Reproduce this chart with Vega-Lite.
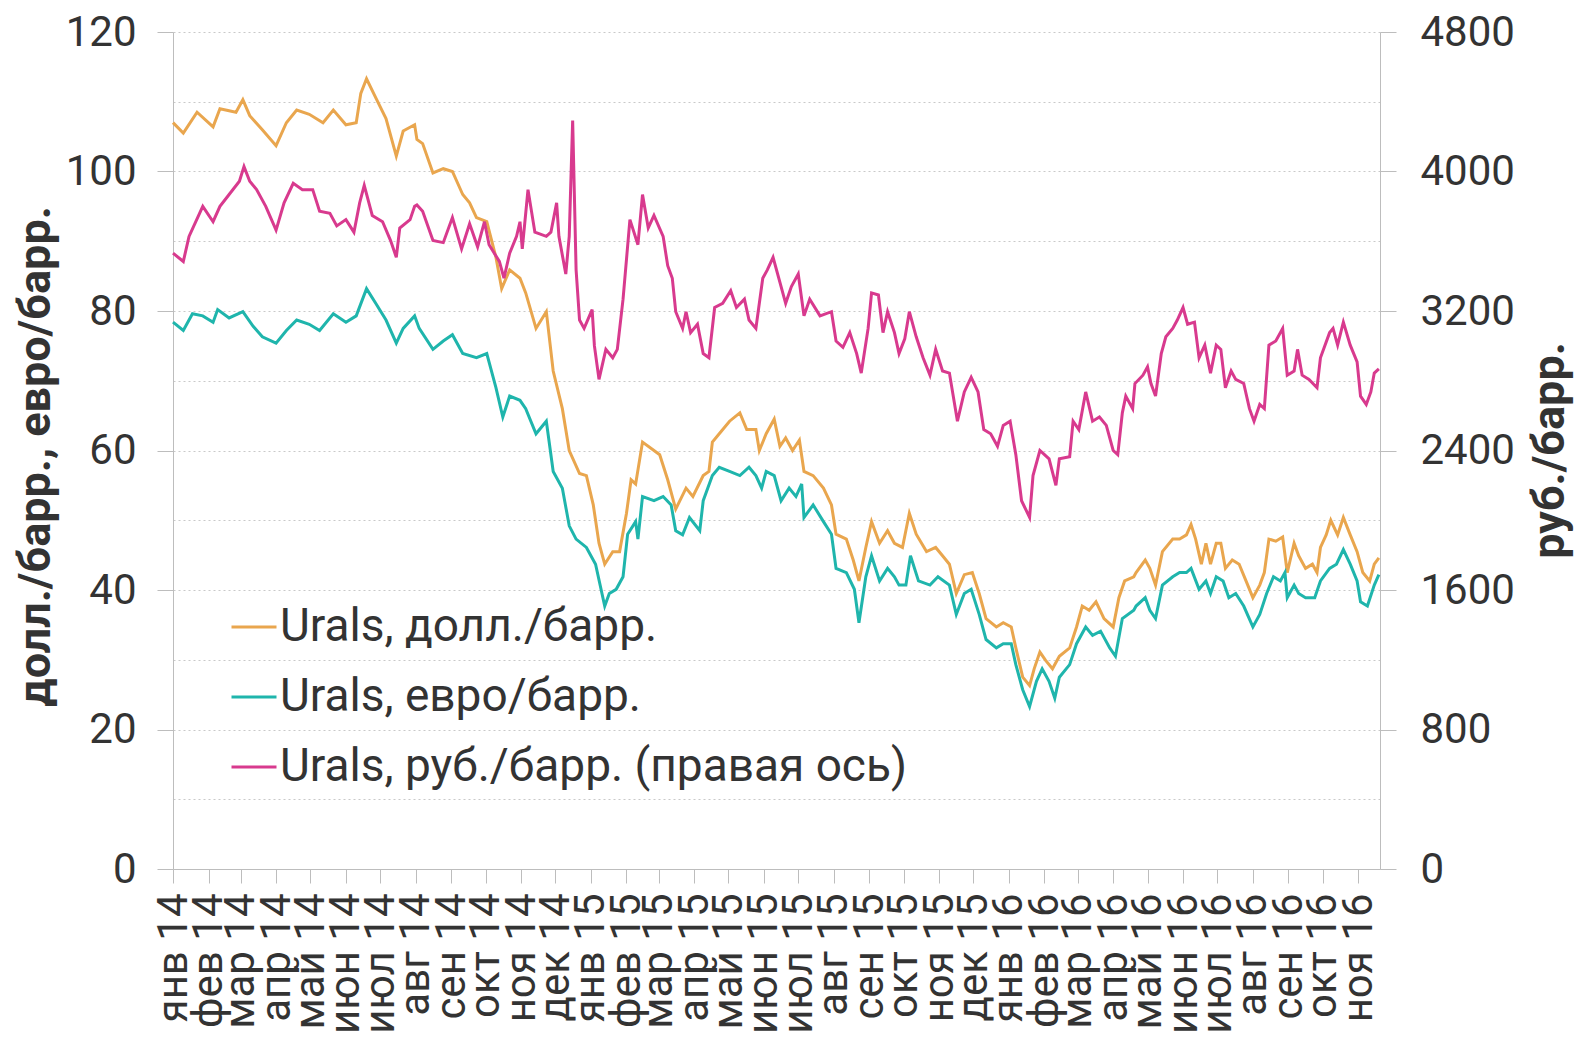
{
  "$schema": "https://vega.github.io/schema/vega-lite/v6.json",
  "width": 1207,
  "height": 837,
  "autosize": {"type": "none"},
  "padding": {"left": 173, "top": 32, "right": 197, "bottom": 169},
  "background": "white",
  "config": {
    "view": {"stroke": null},
    "font": "Roboto",
    "axis": {"labelColor": "#333333", "titleColor": "#333333", "labelFont": "Roboto", "titleFont": "Roboto", "domainColor": "#bdbdbd", "tickColor": "#bdbdbd"}
  },
  "datasets": {
    "usd": [
      {"d":"2014-01-01","v":107},{"d":"2014-01-10","v":105.5},{"d":"2014-01-22","v":108.5},{"d":"2014-02-05","v":106.4},{"d":"2014-02-11","v":109},{"d":"2014-02-25","v":108.5},{"d":"2014-03-03","v":110.3},{"d":"2014-03-09","v":108},{"d":"2014-03-20","v":106},{"d":"2014-04-01","v":103.7},{"d":"2014-04-10","v":107},{"d":"2014-04-19","v":108.8},{"d":"2014-04-30","v":108.2},{"d":"2014-05-12","v":107},{"d":"2014-05-21","v":108.8},{"d":"2014-06-01","v":106.7},{"d":"2014-06-10","v":107},{"d":"2014-06-14","v":111.2},{"d":"2014-06-19","v":113.3},{"d":"2014-06-27","v":110.6},{"d":"2014-07-06","v":107.6},{"d":"2014-07-15","v":102.2},{"d":"2014-07-21","v":105.8},{"d":"2014-07-31","v":106.7},{"d":"2014-08-02","v":104.6},{"d":"2014-08-07","v":104},{"d":"2014-08-16","v":99.8},{"d":"2014-08-25","v":100.4},{"d":"2014-09-02","v":100},{"d":"2014-09-11","v":96.7},{"d":"2014-09-17","v":95.5},{"d":"2014-09-23","v":93.4},{"d":"2014-10-02","v":92.8},{"d":"2014-10-10","v":87.7},{"d":"2014-10-15","v":83.2},{"d":"2014-10-22","v":85.9},{"d":"2014-10-31","v":84.7},{"d":"2014-11-05","v":82.6},{"d":"2014-11-14","v":77.5},{"d":"2014-11-23","v":79.9},{"d":"2014-11-29","v":71.4},{"d":"2014-12-07","v":66},{"d":"2014-12-13","v":60},{"d":"2014-12-22","v":56.7},{"d":"2014-12-28","v":56.4},{"d":"2015-01-03","v":52.2},{"d":"2015-01-08","v":46.7},{"d":"2015-01-13","v":43.7},{"d":"2015-01-20","v":45.5},{"d":"2015-01-26","v":45.5},{"d":"2015-02-01","v":51},{"d":"2015-02-05","v":55.8},{"d":"2015-02-09","v":55.2},{"d":"2015-02-15","v":61.2},{"d":"2015-02-25","v":60},{"d":"2015-03-02","v":59.4},{"d":"2015-03-09","v":55.8},{"d":"2015-03-16","v":51.6},{"d":"2015-03-25","v":54.6},{"d":"2015-03-31","v":53.4},{"d":"2015-04-09","v":56.4},{"d":"2015-04-14","v":57},{"d":"2015-04-17","v":61.2},{"d":"2015-04-23","v":62.4},{"d":"2015-05-02","v":64.2},{"d":"2015-05-11","v":65.4},{"d":"2015-05-17","v":63},{"d":"2015-05-25","v":63},{"d":"2015-05-28","v":60},{"d":"2015-06-03","v":62.4},{"d":"2015-06-10","v":64.5},{"d":"2015-06-15","v":60.6},{"d":"2015-06-20","v":61.8},{"d":"2015-06-26","v":60},{"d":"2015-07-02","v":61.5},{"d":"2015-07-06","v":57},{"d":"2015-07-14","v":56.4},{"d":"2015-07-23","v":54.6},{"d":"2015-07-30","v":52.2},{"d":"2015-08-03","v":48},{"d":"2015-08-12","v":47.3},{"d":"2015-08-18","v":44.3},{"d":"2015-08-23","v":41.3},{"d":"2015-08-29","v":46.1},{"d":"2015-09-03","v":49.8},{"d":"2015-09-10","v":46.7},{"d":"2015-09-17","v":48.5},{"d":"2015-09-23","v":46.7},{"d":"2015-09-30","v":46.1},{"d":"2015-10-06","v":51},{"d":"2015-10-12","v":48},{"d":"2015-10-21","v":45.5},{"d":"2015-10-29","v":46.1},{"d":"2015-11-04","v":44.9},{"d":"2015-11-10","v":43.7},{"d":"2015-11-16","v":39.5},{"d":"2015-11-23","v":42.2},{"d":"2015-11-30","v":42.5},{"d":"2015-12-06","v":39.5},{"d":"2015-12-12","v":35.9},{"d":"2015-12-21","v":34.7},{"d":"2015-12-27","v":35.3},{"d":"2016-01-03","v":34.7},{"d":"2016-01-07","v":31.7},{"d":"2016-01-13","v":27.5},{"d":"2016-01-19","v":26.3},{"d":"2016-01-23","v":28.7},{"d":"2016-01-28","v":31.1},{"d":"2016-02-02","v":29.9},{"d":"2016-02-08","v":28.7},{"d":"2016-02-14","v":30.5},{"d":"2016-02-23","v":31.7},{"d":"2016-02-29","v":34.7},{"d":"2016-03-05","v":37.7},{"d":"2016-03-11","v":37.1},{"d":"2016-03-17","v":38.3},{"d":"2016-03-24","v":35.9},{"d":"2016-04-01","v":34.7},{"d":"2016-04-06","v":38.9},{"d":"2016-04-11","v":41.3},{"d":"2016-04-19","v":41.9},{"d":"2016-04-21","v":42.5},{"d":"2016-04-29","v":44.3},{"d":"2016-05-03","v":43.1},{"d":"2016-05-08","v":40.7},{"d":"2016-05-14","v":45.5},{"d":"2016-05-23","v":47.3},{"d":"2016-05-29","v":47.3},{"d":"2016-06-04","v":47.9},{"d":"2016-06-08","v":49.4},{"d":"2016-06-12","v":47.3},{"d":"2016-06-17","v":43.7},{"d":"2016-06-21","v":46.7},{"d":"2016-06-25","v":43.7},{"d":"2016-06-30","v":46.7},{"d":"2016-07-04","v":46.7},{"d":"2016-07-08","v":43.1},{"d":"2016-07-14","v":44.3},{"d":"2016-07-20","v":43.7},{"d":"2016-07-26","v":41.3},{"d":"2016-08-01","v":38.9},{"d":"2016-08-07","v":40.7},{"d":"2016-08-11","v":42.5},{"d":"2016-08-15","v":47.3},{"d":"2016-08-21","v":47},{"d":"2016-08-27","v":47.6},{"d":"2016-08-31","v":42.5},{"d":"2016-09-06","v":46.7},{"d":"2016-09-10","v":44.9},{"d":"2016-09-16","v":43.1},{"d":"2016-09-22","v":43.7},{"d":"2016-09-26","v":42.5},{"d":"2016-09-29","v":46.1},{"d":"2016-10-04","v":47.9},{"d":"2016-10-08","v":50},{"d":"2016-10-14","v":47.9},{"d":"2016-10-19","v":50.4},{"d":"2016-10-25","v":47.9},{"d":"2016-10-31","v":45.5},{"d":"2016-11-05","v":42.5},{"d":"2016-11-11","v":41.3},{"d":"2016-11-15","v":43.7},{"d":"2016-11-19","v":44.6}
    ],
    "eur": [
      {"d":"2014-01-01","v":78.4},{"d":"2014-01-10","v":77.2},{"d":"2014-01-18","v":79.6},{"d":"2014-01-27","v":79.3},{"d":"2014-02-05","v":78.4},{"d":"2014-02-09","v":80.2},{"d":"2014-02-19","v":79},{"d":"2014-03-03","v":79.9},{"d":"2014-03-12","v":77.8},{"d":"2014-03-20","v":76.3},{"d":"2014-04-01","v":75.4},{"d":"2014-04-10","v":77.2},{"d":"2014-04-19","v":78.7},{"d":"2014-04-30","v":78.1},{"d":"2014-05-09","v":77.2},{"d":"2014-05-21","v":79.6},{"d":"2014-06-01","v":78.4},{"d":"2014-06-10","v":79.3},{"d":"2014-06-19","v":83.2},{"d":"2014-06-27","v":81.1},{"d":"2014-07-06","v":78.7},{"d":"2014-07-15","v":75.4},{"d":"2014-07-21","v":77.5},{"d":"2014-07-31","v":79.3},{"d":"2014-08-04","v":77.5},{"d":"2014-08-16","v":74.5},{"d":"2014-08-25","v":75.7},{"d":"2014-09-02","v":76.6},{"d":"2014-09-11","v":73.9},{"d":"2014-09-23","v":73.3},{"d":"2014-10-02","v":73.9},{"d":"2014-10-10","v":69},{"d":"2014-10-16","v":64.8},{"d":"2014-10-22","v":67.8},{"d":"2014-10-31","v":67.2},{"d":"2014-11-05","v":66},{"d":"2014-11-14","v":62.4},{"d":"2014-11-23","v":64.2},{"d":"2014-11-29","v":57},{"d":"2014-12-07","v":54.6},{"d":"2014-12-13","v":49.2},{"d":"2014-12-19","v":47.3},{"d":"2014-12-28","v":46.1},{"d":"2015-01-05","v":43.7},{"d":"2015-01-13","v":37.7},{"d":"2015-01-17","v":39.5},{"d":"2015-01-23","v":40.1},{"d":"2015-01-29","v":41.9},{"d":"2015-02-02","v":48},{"d":"2015-02-09","v":49.8},{"d":"2015-02-11","v":47.3},{"d":"2015-02-15","v":53.4},{"d":"2015-02-25","v":52.8},{"d":"2015-03-05","v":53.4},{"d":"2015-03-12","v":52.2},{"d":"2015-03-16","v":48.5},{"d":"2015-03-22","v":47.9},{"d":"2015-03-28","v":50.4},{"d":"2015-04-06","v":48.5},{"d":"2015-04-09","v":52.8},{"d":"2015-04-17","v":56.4},{"d":"2015-04-23","v":57.6},{"d":"2015-05-02","v":57},{"d":"2015-05-11","v":56.4},{"d":"2015-05-19","v":57.6},{"d":"2015-05-25","v":56.4},{"d":"2015-05-30","v":54.6},{"d":"2015-06-03","v":57},{"d":"2015-06-10","v":56.4},{"d":"2015-06-16","v":52.8},{"d":"2015-06-23","v":54.6},{"d":"2015-06-29","v":53.4},{"d":"2015-07-04","v":55.2},{"d":"2015-07-06","v":50.4},{"d":"2015-07-14","v":52.2},{"d":"2015-07-23","v":49.8},{"d":"2015-07-30","v":48},{"d":"2015-08-03","v":43.1},{"d":"2015-08-12","v":42.5},{"d":"2015-08-19","v":40.1},{"d":"2015-08-23","v":35.3},{"d":"2015-08-29","v":41.9},{"d":"2015-09-03","v":44.9},{"d":"2015-09-10","v":41.3},{"d":"2015-09-17","v":43.1},{"d":"2015-09-23","v":41.9},{"d":"2015-09-27","v":40.7},{"d":"2015-10-03","v":40.7},{"d":"2015-10-07","v":44.9},{"d":"2015-10-14","v":41.3},{"d":"2015-10-24","v":40.7},{"d":"2015-10-31","v":41.9},{"d":"2015-11-10","v":40.7},{"d":"2015-11-16","v":36.5},{"d":"2015-11-23","v":39.5},{"d":"2015-11-29","v":40.1},{"d":"2015-12-06","v":36.5},{"d":"2015-12-12","v":32.9},{"d":"2015-12-21","v":31.7},{"d":"2015-12-27","v":32.3},{"d":"2016-01-03","v":32.3},{"d":"2016-01-07","v":29.3},{"d":"2016-01-13","v":25.7},{"d":"2016-01-19","v":23.3},{"d":"2016-01-25","v":26.9},{"d":"2016-01-30","v":28.7},{"d":"2016-02-05","v":26.9},{"d":"2016-02-10","v":24.5},{"d":"2016-02-14","v":27.5},{"d":"2016-02-23","v":29.3},{"d":"2016-02-29","v":32.3},{"d":"2016-03-08","v":34.7},{"d":"2016-03-14","v":33.5},{"d":"2016-03-21","v":34.1},{"d":"2016-03-29","v":31.7},{"d":"2016-04-03","v":30.5},{"d":"2016-04-09","v":35.9},{"d":"2016-04-19","v":37.1},{"d":"2016-04-21","v":37.7},{"d":"2016-04-29","v":38.9},{"d":"2016-05-03","v":37.1},{"d":"2016-05-08","v":35.9},{"d":"2016-05-14","v":40.7},{"d":"2016-05-23","v":41.9},{"d":"2016-05-29","v":42.5},{"d":"2016-06-04","v":42.5},{"d":"2016-06-08","v":43.1},{"d":"2016-06-15","v":40.1},{"d":"2016-06-21","v":41.3},{"d":"2016-06-25","v":39.5},{"d":"2016-06-30","v":41.9},{"d":"2016-07-06","v":41.3},{"d":"2016-07-11","v":38.9},{"d":"2016-07-17","v":39.5},{"d":"2016-07-24","v":37.7},{"d":"2016-08-01","v":34.7},{"d":"2016-08-07","v":36.5},{"d":"2016-08-13","v":39.5},{"d":"2016-08-19","v":41.9},{"d":"2016-08-25","v":41.3},{"d":"2016-08-29","v":42.5},{"d":"2016-08-31","v":38.9},{"d":"2016-09-06","v":40.7},{"d":"2016-09-10","v":39.5},{"d":"2016-09-16","v":38.9},{"d":"2016-09-24","v":38.9},{"d":"2016-09-29","v":41.3},{"d":"2016-10-07","v":43.1},{"d":"2016-10-13","v":43.7},{"d":"2016-10-19","v":45.8},{"d":"2016-10-25","v":43.7},{"d":"2016-10-31","v":41.3},{"d":"2016-11-03","v":38.3},{"d":"2016-11-09","v":37.7},{"d":"2016-11-15","v":40.7},{"d":"2016-11-19","v":42.2}
    ],
    "rub": [
      {"d":"2014-01-01","v":3532},{"d":"2014-01-10","v":3484},{"d":"2014-01-15","v":3628},{"d":"2014-01-27","v":3800},{"d":"2014-02-05","v":3712},{"d":"2014-02-11","v":3800},{"d":"2014-02-19","v":3868},{"d":"2014-02-28","v":3944},{"d":"2014-03-04","v":4028},{"d":"2014-03-09","v":3944},{"d":"2014-03-15","v":3896},{"d":"2014-03-23","v":3800},{"d":"2014-04-01","v":3664},{"d":"2014-04-08","v":3820},{"d":"2014-04-16","v":3932},{"d":"2014-04-24","v":3896},{"d":"2014-05-03","v":3896},{"d":"2014-05-09","v":3772},{"d":"2014-05-18","v":3760},{"d":"2014-05-24","v":3688},{"d":"2014-06-01","v":3724},{"d":"2014-06-08","v":3652},{"d":"2014-06-13","v":3820},{"d":"2014-06-17","v":3920},{"d":"2014-06-24","v":3748},{"d":"2014-07-03","v":3712},{"d":"2014-07-10","v":3604},{"d":"2014-07-15","v":3508},{"d":"2014-07-18","v":3676},{"d":"2014-07-27","v":3724},{"d":"2014-07-31","v":3800},{"d":"2014-08-02","v":3808},{"d":"2014-08-07","v":3772},{"d":"2014-08-16","v":3604},{"d":"2014-08-25","v":3592},{"d":"2014-09-02","v":3736},{"d":"2014-09-10","v":3556},{"d":"2014-09-17","v":3700},{"d":"2014-09-24","v":3568},{"d":"2014-09-30","v":3712},{"d":"2014-10-04","v":3580},{"d":"2014-10-13","v":3484},{"d":"2014-10-17","v":3388},{"d":"2014-10-22","v":3532},{"d":"2014-10-28","v":3628},{"d":"2014-10-31","v":3712},{"d":"2014-11-02","v":3556},{"d":"2014-11-07","v":3896},{"d":"2014-11-13","v":3652},{"d":"2014-11-23","v":3628},{"d":"2014-11-27","v":3652},{"d":"2014-12-02","v":3820},{"d":"2014-12-04","v":3628},{"d":"2014-12-10","v":3412},{"d":"2014-12-13","v":3628},{"d":"2014-12-16","v":4292},{"d":"2014-12-19","v":3436},{"d":"2014-12-22","v":3148},{"d":"2014-12-26","v":3100},{"d":"2015-01-02","v":3208},{"d":"2015-01-04","v":3000},{"d":"2015-01-08","v":2808},{"d":"2015-01-14","v":2980},{"d":"2015-01-20","v":2932},{"d":"2015-01-24","v":2980},{"d":"2015-01-29","v":3268},{"d":"2015-02-04","v":3724},{"d":"2015-02-11","v":3580},{"d":"2015-02-15","v":3868},{"d":"2015-02-20","v":3676},{"d":"2015-02-25","v":3748},{"d":"2015-03-05","v":3628},{"d":"2015-03-09","v":3460},{"d":"2015-03-13","v":3388},{"d":"2015-03-16","v":3196},{"d":"2015-03-22","v":3100},{"d":"2015-03-25","v":3196},{"d":"2015-03-29","v":3076},{"d":"2015-04-04","v":3124},{"d":"2015-04-09","v":2956},{"d":"2015-04-14","v":2932},{"d":"2015-04-19","v":3220},{"d":"2015-04-26","v":3244},{"d":"2015-05-03","v":3316},{"d":"2015-05-08","v":3220},{"d":"2015-05-15","v":3268},{"d":"2015-05-19","v":3148},{"d":"2015-05-25","v":3100},{"d":"2015-05-31","v":3388},{"d":"2015-06-04","v":3436},{"d":"2015-06-09","v":3508},{"d":"2015-06-15","v":3364},{"d":"2015-06-20","v":3244},{"d":"2015-06-25","v":3340},{"d":"2015-07-01","v":3412},{"d":"2015-07-06","v":3172},{"d":"2015-07-11","v":3268},{"d":"2015-07-20","v":3172},{"d":"2015-07-30","v":3196},{"d":"2015-08-03","v":3028},{"d":"2015-08-09","v":2992},{"d":"2015-08-15","v":3076},{"d":"2015-08-21","v":2956},{"d":"2015-08-25","v":2844},{"d":"2015-08-31","v":3100},{"d":"2015-09-03","v":3304},{"d":"2015-09-09","v":3292},{"d":"2015-09-13","v":3076},{"d":"2015-09-17","v":3196},{"d":"2015-09-23","v":3076},{"d":"2015-09-27","v":2956},{"d":"2015-10-02","v":3040},{"d":"2015-10-06","v":3196},{"d":"2015-10-12","v":3052},{"d":"2015-10-18","v":2932},{"d":"2015-10-24","v":2832},{"d":"2015-10-29","v":2980},{"d":"2015-11-04","v":2856},{"d":"2015-11-10","v":2844},{"d":"2015-11-17","v":2568},{"d":"2015-11-23","v":2736},{"d":"2015-11-29","v":2820},{"d":"2015-12-05","v":2736},{"d":"2015-12-10","v":2520},{"d":"2015-12-16","v":2496},{"d":"2015-12-22","v":2424},{"d":"2015-12-27","v":2544},{"d":"2016-01-02","v":2568},{"d":"2016-01-07","v":2376},{"d":"2016-01-12","v":2112},{"d":"2016-01-19","v":2016},{"d":"2016-01-22","v":2256},{"d":"2016-01-28","v":2400},{"d":"2016-02-01","v":2376},{"d":"2016-02-05","v":2352},{"d":"2016-02-11","v":2200},{"d":"2016-02-14","v":2352},{"d":"2016-02-23","v":2364},{"d":"2016-02-26","v":2568},{"d":"2016-03-02","v":2520},{"d":"2016-03-08","v":2736},{"d":"2016-03-14","v":2568},{"d":"2016-03-20","v":2592},{"d":"2016-03-26","v":2544},{"d":"2016-04-01","v":2400},{"d":"2016-04-05","v":2376},{"d":"2016-04-09","v":2616},{"d":"2016-04-12","v":2712},{"d":"2016-04-18","v":2640},{"d":"2016-04-20","v":2784},{"d":"2016-04-27","v":2832},{"d":"2016-05-01","v":2880},{"d":"2016-05-04","v":2784},{"d":"2016-05-08","v":2712},{"d":"2016-05-13","v":2956},{"d":"2016-05-17","v":3052},{"d":"2016-05-23","v":3100},{"d":"2016-05-27","v":3148},{"d":"2016-06-01","v":3220},{"d":"2016-06-05","v":3124},{"d":"2016-06-11","v":3136},{"d":"2016-06-15","v":2932},{"d":"2016-06-20","v":3004},{"d":"2016-06-25","v":2844},{"d":"2016-06-30","v":3004},{"d":"2016-07-04","v":2980},{"d":"2016-07-08","v":2760},{"d":"2016-07-13","v":2856},{"d":"2016-07-17","v":2808},{"d":"2016-07-24","v":2784},{"d":"2016-07-29","v":2640},{"d":"2016-08-02","v":2568},{"d":"2016-08-07","v":2664},{"d":"2016-08-11","v":2640},{"d":"2016-08-15","v":3004},{"d":"2016-08-21","v":3028},{"d":"2016-08-27","v":3100},{"d":"2016-08-31","v":2832},{"d":"2016-09-06","v":2856},{"d":"2016-09-09","v":2980},{"d":"2016-09-13","v":2832},{"d":"2016-09-19","v":2808},{"d":"2016-09-26","v":2760},{"d":"2016-09-29","v":2932},{"d":"2016-10-07","v":3076},{"d":"2016-10-10","v":3100},{"d":"2016-10-14","v":3004},{"d":"2016-10-19","v":3136},{"d":"2016-10-25","v":3004},{"d":"2016-10-31","v":2908},{"d":"2016-11-03","v":2712},{"d":"2016-11-08","v":2664},{"d":"2016-11-12","v":2736},{"d":"2016-11-15","v":2844},{"d":"2016-11-19","v":2868}
    ]
  },
  "encoding": {
    "x": {
      "field": "d",
      "type": "temporal",
      "scale": {"type": "utc", "domain": [{"year": 2014, "month": 1, "date": 1, "utc": true}, {"year": 2016, "month": 11, "date": 20, "utc": true}]},
      "axis": {
        "title": null,
        "grid": false,
        "tickCount": {"interval": "month", "step": 1},
        "labelExpr": "['янв','фев','мар','апр','май','июн','июл','авг','сен','окт','ноя','дек'][utcmonth(datum.value)] + ' ' + utcFormat(datum.value, '%y')",
        "labelAngle": -90,
        "labelAlign": "right",
        "labelBaseline": "middle",
        "labelFontSize": 42,
        "labelPadding": 10,
        "labelOverlap": false,
        "labelFlush": false,
        "labelBound": false,
        "tickSize": 14,
        "domainColor": "#bdbdbd",
        "tickColor": "#bdbdbd"
      }
    },
    "color": {
      "field": "s",
      "type": "nominal",
      "scale": {
        "domain": ["Urals, долл./барр.", "Urals, евро/барр.", "Urals, руб./барр. (правая ось)"],
        "range": ["#E9A64E", "#1FB5AC", "#D83A8E"]
      },
      "legend": {
        "title": null,
        "orient": "none",
        "legendX": 57,
        "legendY": 571,
        "symbolType": "stroke",
        "symbolSize": 2025,
        "symbolStrokeWidth": 3,
        "labelFontSize": 46,
        "labelColor": "#333333",
        "labelFont": "Roboto",
        "labelLimit": 1200,
        "labelOffset": 2,
        "rowPadding": 23,
        "padding": 0
      }
    }
  },
  "layer": [
    {
      "encoding": {
        "y": {
          "field": "v",
          "type": "quantitative",
          "scale": {"domain": [0, 120], "nice": false},
          "axis": {
            "orient": "left",
            "title": "долл./барр., евро/барр.",
            "titleFontSize": 45,
            "titleFontWeight": "bold",
            "titleX": -138,
            "titleY": 424,
            "titleAngle": 270,
            "titleBaseline": "middle",
            "titleAlign": "center",
            "values": [0, 10, 20, 30, 40, 50, 60, 70, 80, 90, 100, 110, 120],
            "labelExpr": "datum.value % 20 == 0 ? datum.label : ''",
            "labelFontSize": 42,
            "labelPadding": 21,
            "tickSize": 16,
            "tickOpacity": {"condition": {"test": "datum.value % 20 == 0", "value": 1}, "value": 0},
            "grid": true,
            "gridColor": "#c9c9c9",
            "gridDash": [2, 3],
            "gridWidth": 1,
            "domainColor": "#bdbdbd",
            "tickColor": "#bdbdbd"
          }
        }
      },
      "layer": [
        {
          "data": {"name": "usd"},
          "transform": [{"calculate": "'Urals, долл./барр.'", "as": "s"}],
          "mark": {"type": "line", "strokeWidth": 3, "interpolate": "linear"}
        },
        {
          "data": {"name": "eur"},
          "transform": [{"calculate": "'Urals, евро/барр.'", "as": "s"}],
          "mark": {"type": "line", "strokeWidth": 3, "interpolate": "linear"}
        }
      ]
    },
    {
      "data": {"name": "rub"},
      "transform": [{"calculate": "'Urals, руб./барр. (правая ось)'", "as": "s"}],
      "mark": {"type": "line", "strokeWidth": 3, "interpolate": "linear"},
      "encoding": {
        "y": {
          "field": "v",
          "type": "quantitative",
          "scale": {"domain": [0, 4800], "nice": false},
          "axis": {
            "orient": "right",
            "title": "руб./барр.",
            "titleFontSize": 45,
            "titleFontWeight": "bold",
            "titleX": 169,
            "titleY": 418,
            "titleAngle": 270,
            "titleBaseline": "middle",
            "titleAlign": "center",
            "values": [0, 800, 1600, 2400, 3200, 4000, 4800],
            "format": "d",
            "labelFontSize": 42,
            "labelPadding": 24,
            "tickSize": 16,
            "grid": false,
            "domainColor": "#bdbdbd",
            "tickColor": "#bdbdbd"
          }
        }
      }
    }
  ],
  "resolve": {"scale": {"y": "independent"}}
}
